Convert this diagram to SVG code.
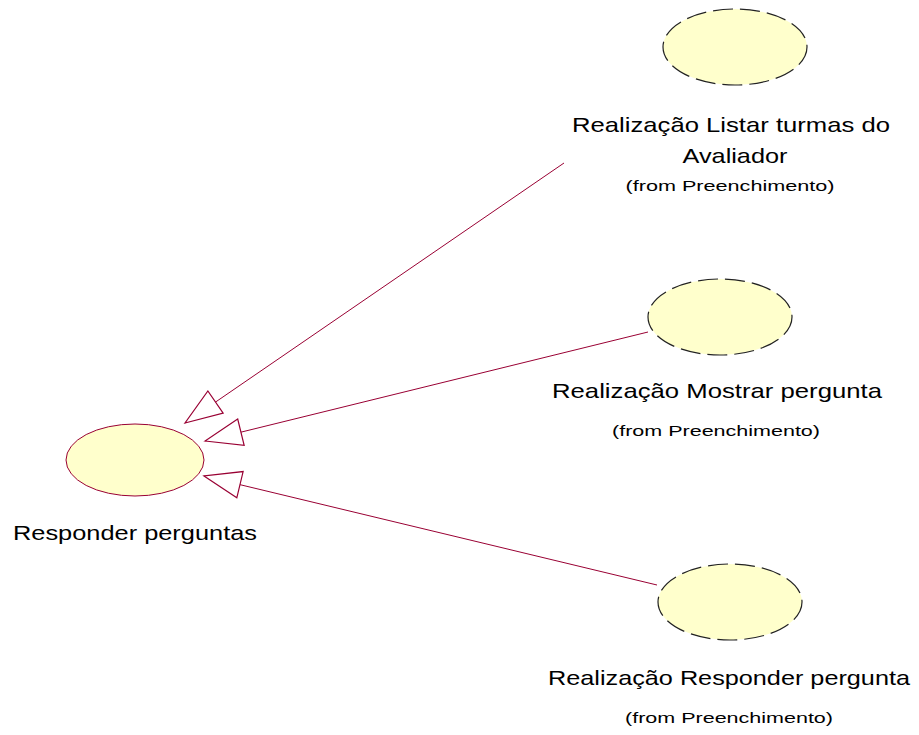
<svg xmlns="http://www.w3.org/2000/svg" width="919" height="735" viewBox="0 0 919 735">
<style>
.uc{fill:#FFFFCC;stroke:#990033;stroke-width:1}
.real{fill:#FFFFCC;stroke:#222222;stroke-width:1.2;stroke-dasharray:20 7}
.lbl{font-family:"Liberation Sans",Arial,sans-serif;font-size:21px;fill:#000;text-anchor:middle}
.from{font-family:"Liberation Sans",Arial,sans-serif;font-size:15.5px;fill:#000;text-anchor:middle}
.conn{stroke:#990033;stroke-width:1;fill:none}
</style>
<defs>
<marker id="tri" markerUnits="userSpaceOnUse" viewBox="-40 -16 42 32" refX="0" refY="0" markerWidth="42" markerHeight="32" orient="auto" overflow="visible">
<path d="M0,0 L-37,-13.5 L-37,13.5 Z" fill="#fff" stroke="#990033" stroke-width="1.2" stroke-linejoin="miter"/>
</marker>
</defs>
<rect width="919" height="735" fill="#fff"/>
<g id="connectors">
<line class="conn" x1="564" y1="163" x2="185" y2="423" marker-end="url(#tri)"/>
<line class="conn" x1="648" y1="332" x2="205" y2="441" marker-end="url(#tri)"/>
<line class="conn" x1="657" y1="585" x2="204" y2="476" marker-end="url(#tri)"/>
</g>
<g id="responder-perguntas">
<ellipse class="uc" cx="135" cy="460" rx="69" ry="36"/>
<text class="lbl" x="135" y="540" textLength="244" lengthAdjust="spacingAndGlyphs">Responder perguntas</text>
</g>
<g id="realizacao-listar-turmas">
<ellipse class="real" cx="735" cy="47" rx="72" ry="38"/>
<text class="lbl" x="731" y="132" textLength="318" lengthAdjust="spacingAndGlyphs">Realização Listar turmas do</text>
<text class="lbl" x="735" y="163" textLength="105" lengthAdjust="spacingAndGlyphs">Avaliador</text>
<text class="from" x="730" y="191" textLength="209" lengthAdjust="spacingAndGlyphs">(from Preenchimento)</text>
</g>
<g id="realizacao-mostrar-pergunta">
<ellipse class="real" cx="720" cy="317" rx="72" ry="38"/>
<text class="lbl" x="717" y="398" textLength="330" lengthAdjust="spacingAndGlyphs">Realização Mostrar pergunta</text>
<text class="from" x="716" y="436" textLength="208" lengthAdjust="spacingAndGlyphs">(from Preenchimento)</text>
</g>
<g id="realizacao-responder-pergunta">
<ellipse class="real" cx="730" cy="602" rx="72" ry="38"/>
<text class="lbl" x="729" y="685" textLength="362" lengthAdjust="spacingAndGlyphs">Realização Responder pergunta</text>
<text class="from" x="729" y="723" textLength="208" lengthAdjust="spacingAndGlyphs">(from Preenchimento)</text>
</g>
</svg>
